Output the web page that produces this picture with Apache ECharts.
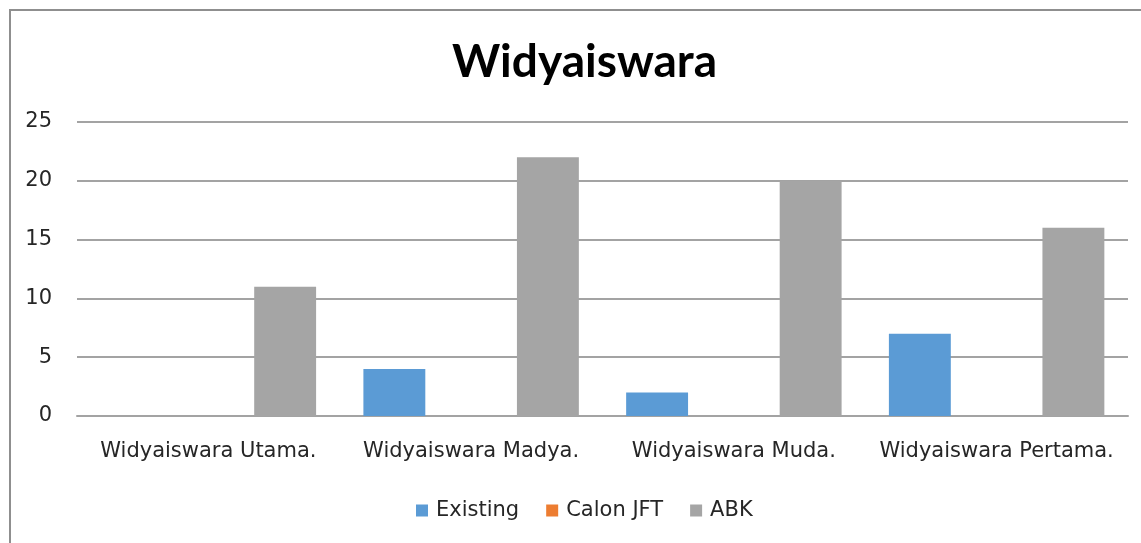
<!DOCTYPE html>
<html>
<head>
<meta charset="utf-8">
<script src="https://cdn.jsdelivr.net/npm/echarts@6/dist/echarts.min.js"></script>
<style>
  html, body { margin: 0; padding: 0; background: #fff; }
  #chart { width: 1141px; height: 543px; }
</style>
</head>
<body>
<div id="chart"></div>
<script>
var categories = ['Widyaiswara Utama.', 'Widyaiswara Madya.', 'Widyaiswara Muda.', 'Widyaiswara Pertama.'];
var existing = [0, 4, 2, 7];
var calonJft = [0, 0, 0, 0];
var abk = [11, 22, 20, 16];

var labelFont = 'DejaVu Sans';
var gridColor = '#a3a3a3';
var textColor = '#262626';

var myChart = echarts.init(document.getElementById('chart'));

var option = {
    animation: false,
    backgroundColor: '#fff',
    title: {
        text: 'Widyaiswara',
        left: 447,
        top: 34,
        textStyle: {
            fontFamily: 'Lato',
            fontWeight: 'bold',
            fontSize: 46,
            color: '#000'
        }
    },
    legend: {
        bottom: 17,
        left: 411,
        icon: 'rect',
        itemWidth: 12,
        itemHeight: 12,
        itemGap: 27,
        textStyle: {
            fontFamily: labelFont,
            fontSize: 21,
            color: textColor,
            padding: [0, 0, 0, 3]
        },
        data: ['Existing', 'Calon JFT', 'ABK']
    },
    grid: {
        left: 77,
        right: 13,
        top: 122,
        bottom: 127
    },
    xAxis: {
        type: 'category',
        data: categories,
        axisTick: { show: false },
        axisLine: { show: true, lineStyle: { color: gridColor, width: 2 } },
        axisLabel: {
            fontFamily: labelFont,
            fontSize: 21,
            color: textColor,
            margin: 25,
            interval: 0
        }
    },
    yAxis: {
        type: 'value',
        min: 0,
        max: 25,
        interval: 5,
        axisLine: { show: false },
        axisTick: { show: false },
        axisLabel: {
            fontFamily: labelFont,
            fontSize: 21,
            color: textColor,
            margin: 25
        },
        splitLine: { lineStyle: { color: gridColor, width: 2 } }
    },
    series: [
        {
            name: 'Existing',
            type: 'bar',
            data: existing,
            barGap: '24%',
            barCategoryGap: '18%',
            itemStyle: { color: '#5b9bd5' }
        },
        {
            name: 'Calon JFT',
            type: 'bar',
            data: calonJft,
            itemStyle: { color: '#ed7d31' }
        },
        {
            name: 'ABK',
            type: 'bar',
            data: abk,
            itemStyle: { color: '#a5a5a5' }
        }
    ],
    graphic: [
        {
            type: 'rect',
            shape: { x: 10, y: 10, width: 1200, height: 600 },
            style: { fill: 'none', stroke: '#8f8f8f', lineWidth: 2 },
            silent: true
        }
    ]
};

myChart.setOption(option);
</script>
</body>
</html>
